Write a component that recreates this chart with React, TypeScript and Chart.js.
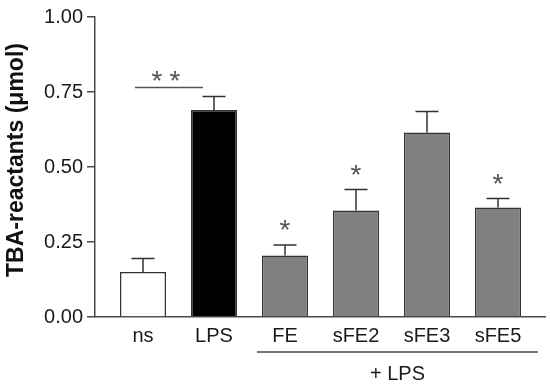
import React, { useEffect, useRef } from 'react';
import { Chart, registerables } from 'chart.js';

Chart.register(...registerables);

const categories = ['ns', 'LPS', 'FE', 'sFE2', 'sFE3', 'sFE5'];
const values = [0.15, 0.69, 0.205, 0.355, 0.615, 0.365];
const errors = [0.045, 0.045, 0.035, 0.07, 0.07, 0.03];
const significance = ['', '', '*', '*', '', '*'];
const barColors = ['#ffffff', '#000000', '#808080', '#808080', '#808080', '#808080'];
const yTicks = [0, 0.25, 0.5, 0.75, 1.0];
const yTitle = 'TBA-reactants (\u03bcmol)';
const pairMark = '*';
const pairFrom = 0;
const pairTo = 1;
const groupLabel = '+ LPS';
const groupFrom = 2;
const groupTo = 5;

const FONT = '"Liberation Sans", Arial, sans-serif';
const TEXT = '#1a1a1a';
const AXIS = '#4a4a4a';

function drawStar(ctx: CanvasRenderingContext2D, cx: number, cy: number, mark: string) {
  ctx.font = `28px ${FONT}`;
  const m = ctx.measureText(mark);
  const asc = m.actualBoundingBoxAscent;
  const desc = m.actualBoundingBoxDescent;
  const base = cy + (asc - desc) / 2;
  const left = cx - (m.actualBoundingBoxRight + m.actualBoundingBoxLeft) / 2 + m.actualBoundingBoxLeft;
  ctx.textAlign = 'left';
  ctx.textBaseline = 'alphabetic';
  ctx.fillText(mark, left, base);
}

const annotPlugin = {
  id: 'annot',
  afterDatasetsDraw(chart: any) {
    const { ctx } = chart;
    const xs = chart.scales.x;
    const ys = chart.scales.y;
    ctx.save();
    ctx.strokeStyle = '#333';
    ctx.lineWidth = 1.5;
    ctx.fillStyle = '#555';
    values.forEach((v, i) => {
      const cx = xs.getPixelForValue(i);
      const y0 = ys.getPixelForValue(v);
      const y1 = ys.getPixelForValue(v + errors[i]);
      ctx.beginPath();
      ctx.moveTo(cx, y0);
      ctx.lineTo(cx, y1);
      ctx.moveTo(cx - 11.5, y1);
      ctx.lineTo(cx + 11.5, y1);
      ctx.stroke();
      if (significance[i]) drawStar(ctx, cx, y1 - 20, significance[i]);
    });
    // pair bracket
    const topPair = Math.min(
      ys.getPixelForValue(values[pairFrom] + errors[pairFrom]),
      ys.getPixelForValue(values[pairTo] + errors[pairTo])
    );
    const ly = topPair - 9;
    const lx0 = xs.getPixelForValue(pairFrom) - 8;
    const lx1 = xs.getPixelForValue(pairTo) - 11;
    ctx.strokeStyle = '#555';
    ctx.beginPath();
    ctx.moveTo(lx0, ly);
    ctx.lineTo(lx1, ly);
    ctx.stroke();
    const mid = (lx0 + lx1) / 2 - 3;
    drawStar(ctx, mid - 9, ly - 12, pairMark);
    drawStar(ctx, mid + 9, ly - 12, pairMark);
    // group bracket
    const gy = chart.chartArea.bottom + 35;
    const gx0 = xs.getPixelForValue(groupFrom) - 28;
    const gx1 = xs.getPixelForValue(groupTo) + 40;
    ctx.strokeStyle = AXIS;
    ctx.beginPath();
    ctx.moveTo(gx0, gy);
    ctx.lineTo(gx1, gy);
    ctx.stroke();
    ctx.fillStyle = TEXT;
    ctx.font = `20px ${FONT}`;
    ctx.textAlign = 'center';
    ctx.textBaseline = 'alphabetic';
    ctx.fillText(groupLabel, (gx0 + gx1) / 2, gy + 28);
    // y title
    ctx.translate(17, 160);
    ctx.rotate(-Math.PI / 2);
    ctx.font = `bold 23px ${FONT}`;
    ctx.textAlign = 'center';
    ctx.textBaseline = 'middle';
    ctx.fillStyle = '#111';
    ctx.fillText(yTitle, 0, 0);
    ctx.restore();
  },
};

export default function App() {
  const ref = useRef<HTMLCanvasElement>(null);
  useEffect(() => {
    if (!ref.current) return;
    const chart = new Chart(ref.current, {
      type: 'bar',
      data: {
        datasets: [
          {
            data: values.map((v, i) => ({ x: i, y: v })),
            backgroundColor: barColors,
            borderColor: '#333',
            borderWidth: 1.5,
            barPercentage: 0.648,
            categoryPercentage: 1,
          },
        ],
      },
      options: {
        animation: false,
        responsive: false,
        devicePixelRatio: 1,
        layout: { padding: { left: 0, right: 5, top: 17, bottom: 0 } },
        plugins: { legend: { display: false }, tooltip: { enabled: false } },
        scales: {
          x: {
            type: 'linear',
            offset: false,
            min: -0.676,
            max: 5.662,
            afterBuildTicks: (s: any) => {
              s.ticks = categories.map((_, i) => ({ value: i }));
            },
            afterFit: (s: any) => {
              s.height = 71;
            },
            grid: { display: false, drawTicks: false, offset: false },
            border: { display: true, color: AXIS, width: 1.5 },
            ticks: {
              autoSkip: false,
              maxRotation: 0,
              padding: 7,
              color: TEXT,
              font: { family: FONT, size: 20 },
              callback: (v: any) => categories[v] ?? '',
            },
          },
          y: {
            min: 0,
            max: 1,
            afterBuildTicks: (s: any) => {
              s.ticks = yTicks.map((v) => ({ value: v }));
            },
            afterFit: (s: any) => {
              s.width = 95;
            },
            grid: {
              display: true,
              drawOnChartArea: false,
              drawTicks: true,
              tickLength: 8,
              color: AXIS,
              lineWidth: 1.5,
            },
            border: { display: true, color: AXIS, width: 1.5 },
            ticks: {
              padding: 4,
              color: TEXT,
              font: { family: FONT, size: 20 },
              callback: (v: any) => Number(v).toFixed(2),
            },
          },
        },
      },
      plugins: [annotPlugin],
    } as any);
    return () => chart.destroy();
  }, []);
  return (
    <div style={{ position: 'absolute', left: 0, top: 0, width: 550, height: 388, background: '#fff' }}>
      <canvas ref={ref} width={550} height={388} />
    </div>
  );
}
